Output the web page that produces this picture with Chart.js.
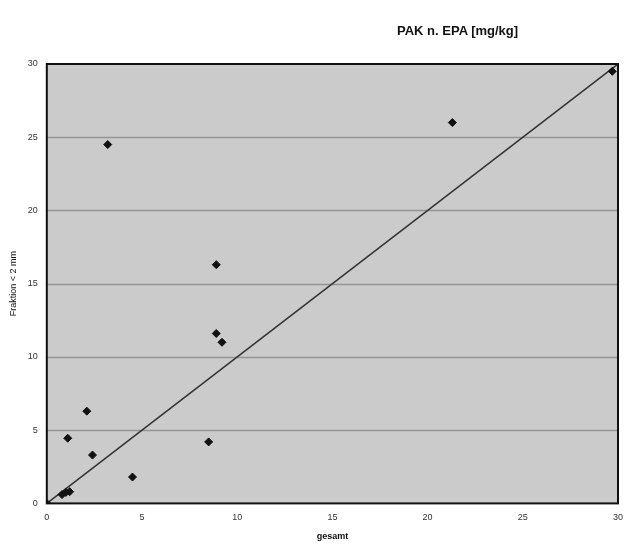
<!DOCTYPE html>
<html>
<head>
<meta charset="utf-8">
<script src="https://cdn.jsdelivr.net/npm/chart.js@4"></script>
<style>
  html, body { margin: 0; padding: 0; background: #fff; }
  #wrap { position: relative; width: 628px; height: 544px; }
  #title {
    position: absolute; top: 23px; left: 397px;
    font: bold 13px "Liberation Sans", Arial, sans-serif; color: #111;
  }
</style>
</head>
<body>
<div id="wrap">
  <div id="title">PAK n. EPA [mg/kg]</div>
  <canvas id="chart" width="628" height="544"></canvas>
</div>
<script>
// Messwerte: gesamt (x) gegen Fraktion < 2 mm (y)
const gesamtVals   = [0.0, 0.8, 1.0, 1.2, 1.1, 2.1, 2.4, 4.5, 8.5, 8.9, 9.2, 8.9, 3.2, 21.3, 29.7];
const fraktionVals = [0.0, 0.6, 0.75, 0.8, 4.45, 6.3, 3.3, 1.8, 4.2, 11.6, 11.0, 16.3, 24.5, 26.0, 29.5];

// 1:1 Linie
const lineX = [0, 30];
const lineY = [0, 30];

// Achsen
const yTicks = [0, 5, 10, 15, 20, 25, 30];
const xTicks = [0, 5, 10, 15, 20, 25, 30];

const points = gesamtVals.map((x, i) => ({ x: x, y: fraktionVals[i] }));
const diag = lineX.map((x, i) => ({ x: x, y: lineY[i] }));

// Hintergrund der Zeichenfläche und Rahmen
const plotFrame = {
    id: 'plotFrame',
    beforeDatasetsDraw(chart) {
        const { ctx, chartArea: a } = chart;
        ctx.save();
        ctx.fillStyle = '#cbcbcb';
        ctx.fillRect(a.left, a.top, a.right - a.left, a.bottom - a.top);
        // horizontale Gitterlinien über dem Hintergrund
        const ys = chart.scales.y;
        ctx.strokeStyle = '#959595';
        ctx.lineWidth = 1.5;
        yTicks.slice(1, -1).forEach(v => {
            const py = Math.round(ys.getPixelForValue(v)) + 0.5;
            ctx.beginPath();
            ctx.moveTo(a.left, py);
            ctx.lineTo(a.right, py);
            ctx.stroke();
        });
        ctx.restore();
    },
    afterDraw(chart) {
        const { ctx, chartArea: a } = chart;
        ctx.save();
        ctx.strokeStyle = '#111';
        ctx.lineWidth = 2;
        ctx.strokeRect(a.left, a.top, a.right - a.left, a.bottom - a.top);
        ctx.restore();
    }
};

new Chart(document.getElementById('chart'), {
    type: 'scatter',
    data: {
        datasets: [{
            type: 'line',
            data: diag,
            borderColor: '#333',
            borderWidth: 1.5,
            pointRadius: 0,
            fill: false,
            order: 2
        }, {
            data: points,
            pointStyle: 'rectRot',
            pointRadius: 4,
            backgroundColor: '#111',
            borderColor: '#111',
            order: 1
        }]
    },
    options: {
        responsive: false,
        animation: false,
        layout: {
            padding: { top: 64, right: 4, left: 8, bottom: 2 }
        },
        plugins: {
            legend: { display: false },
            tooltip: { enabled: false }
        },
        scales: {
            x: {
                type: 'linear',
                min: 0,
                max: 30,
                afterBuildTicks: axis => { axis.ticks = xTicks.map(v => ({ value: v })); },
                grid: { display: false, drawTicks: true, tickLength: 4 },
                border: { color: '#111', width: 2 },
                ticks: {
                    color: '#333',
                    font: { family: '"Liberation Sans", Arial', size: 9 },
                    padding: 5
                },
                title: {
                    display: true,
                    text: 'gesamt',
                    color: '#111',
                    font: { family: '"Liberation Sans", Arial', size: 9, weight: 'bold' },
                    padding: { top: 3, bottom: 0 }
                }
            },
            y: {
                type: 'linear',
                min: 0,
                max: 30,
                afterBuildTicks: axis => { axis.ticks = yTicks.map(v => ({ value: v })); },
                grid: { display: false },
                border: { color: '#111', width: 2 },
                ticks: {
                    color: '#333',
                    font: { family: '"Liberation Sans", Arial', size: 9 },
                    padding: 1
                },
                title: {
                    display: true,
                    text: 'Fraktion < 2 mm',
                    color: '#111',
                    font: { family: '"Liberation Sans", Arial', size: 9 },
                    padding: { top: 0, bottom: 8 }
                }
            }
        }
    },
    plugins: [plotFrame]
});
</script>
</body>
</html>
